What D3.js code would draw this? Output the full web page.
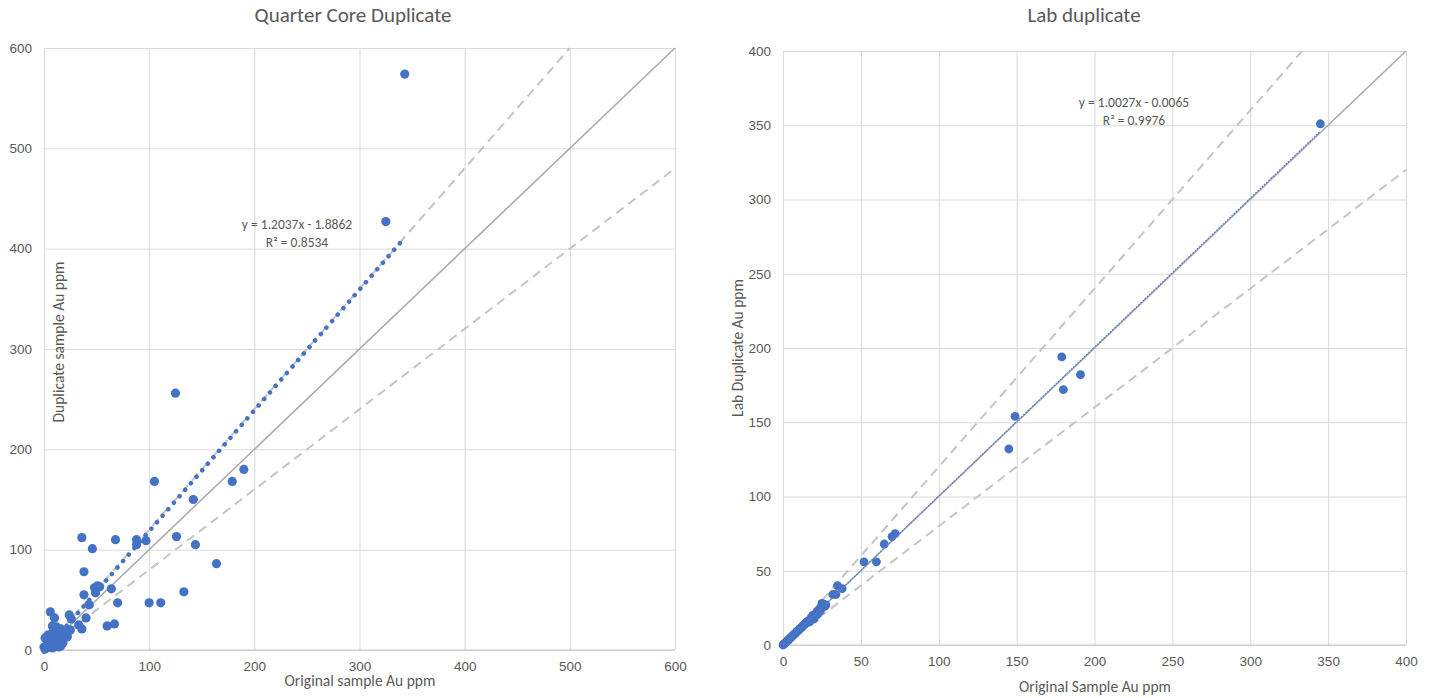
<!DOCTYPE html>
<html>
<head>
<meta charset="utf-8">
<script src="https://cdn.jsdelivr.net/npm/d3@7"></script>
<style>
  html, body { margin: 0; padding: 0; background: #fff; }
  svg { display: block; font-family: Carlito, Calibri, Lato, "Open Sans", sans-serif; }
</style>
</head>
<body>
<svg id="chart" width="1436" height="698"></svg>
<script>
// ---------- DATA ----------
// Quarter core duplicate: original vs duplicate (Au ppm)
const qcOriginal  = [343, 325, 125, 190, 179, 105, 142, 36, 68, 88, 97, 126, 88, 46, 144, 164, 38, 64, 48, 51, 53, 49, 38, 43, 70, 100, 111, 133,
                     6, 10, 24, 26, 40, 33, 36, 60, 67, 9, 8, 12, 16, 18, 22, 15, 9, 4, 1, 6, 0, 2, 10, 16, 18, 7, 12, 18, 22, 3, 5, 1, 13, 20, 11, 14, 4, 8, 25];
const qcDuplicate = [574, 427, 256, 180, 168, 168, 150, 112, 110, 110, 109, 113, 105, 101, 105, 86, 78, 61, 62, 64, 63, 57, 55, 45, 47, 47, 47, 58,
                     38, 32, 35, 31, 32, 25, 21, 24, 26, 23, 24, 23, 21, 18, 14, 17, 19, 15, 12, 10, 3, 2, 5, 4, 7, 7, 12, 12, 13, 6, 3, 1, 9, 16, 15, 3, 9, 2, 20];
const qcTicks = [0, 100, 200, 300, 400, 500, 600];
const qcTrend = { slope: 1.2037, intercept: -1.8862, r2: 0.8534 };

// Lab duplicate: original vs lab duplicate (Au ppm)
const labOriginal  = [345, 179, 180, 191, 149, 145, 72, 70, 65, 52, 60, 35, 38, 32, 34, 25, 26, 24, 21, 19,
                      0, 0.5, 1, 1.5, 2, 2.5, 3, 3.5, 4, 4.5, 5, 5.5, 6, 6.5, 7, 8, 8.5, 9, 10, 10.5, 11, 12, 12.5, 13, 14, 14.5, 15, 16, 17, 18, 18.5, 20, 22, 23, 24, 25, 26, 27, 27.5, 17, 20, 22];
const labDuplicate = [351, 194, 172, 182, 154, 132, 75, 73, 68, 56, 56, 40, 38, 34, 34, 28, 26, 25, 21, 20,
                      0, 0.4, 1.1, 1.5, 1.9, 2.6, 3, 3.3, 4.1, 4.6, 5, 5.4, 6.1, 6.4, 7.1, 7.8, 8.6, 9.2, 9.8, 10.6, 11.2, 11.8, 12.7, 13.3, 13.8, 14.9, 15.4, 16, 16.6, 18.3, 17.5, 19.2, 22.6, 23.5, 23, 26, 27.5, 26.2, 27, 15.5, 17.5, 20.5];
const labTicks = [0, 50, 100, 150, 200, 250, 300, 350, 400];
const labTrend = { slope: 1.0027, intercept: -0.0065, r2: 0.9976 };

// ---------- DRAW ----------
const svg = d3.select("#chart");
const TXT = "#595959", GRID = "#D9D9D9", BLUE = "#4472C4";

function drawChart(cfg) {
  const max = cfg.ticks[cfg.ticks.length - 1];
  const x = d3.scaleLinear().domain([0, max]).range(cfg.xRange);
  const y = d3.scaleLinear().domain([0, max]).range(cfg.yRange);
  const g = svg.append("g");

  // gridlines
  const xAxisG = g.append("g").attr("transform", `translate(0,${cfg.yRange[0]})`)
    .call(d3.axisBottom(x).tickValues(cfg.ticks).tickSize(-(cfg.yRange[0] - cfg.yRange[1])).tickPadding(11).tickFormat(d3.format("d")));
  const yAxisG = g.append("g").attr("transform", `translate(${cfg.xRange[0]},0)`)
    .call(d3.axisLeft(y).tickValues(cfg.ticks).tickSize(-(cfg.xRange[1] - cfg.xRange[0])).tickPadding(12).tickFormat(d3.format("d")));
  [xAxisG, yAxisG].forEach(a => {
    a.select(".domain").remove();
    a.selectAll(".tick line").attr("stroke", GRID).attr("stroke-width", 1);
    a.selectAll(".tick text").attr("fill", TXT).style("font-size", "13.5px");
  });
  // axis line
  g.append("line").attr("x1", cfg.xRange[0]).attr("x2", cfg.xRange[1])
    .attr("y1", cfg.yRange[0]).attr("y2", cfg.yRange[0]).attr("stroke", "#C8C8C8").attr("stroke-width", 1.2);

  // reference lines: 1:1 and +/-20%
  const refs = [
    { k: 1.0, dash: null },
    { k: 1.2, dash: "9 6" },
    { k: 0.8, dash: "9 6" }
  ];
  refs.forEach(r => {
    const xEnd = Math.min(max, max / r.k);
    g.append("line")
      .attr("x1", x(0)).attr("y1", y(0))
      .attr("x2", x(xEnd)).attr("y2", y(r.k * xEnd))
      .attr("stroke", r.dash ? "#C4C4C4" : "#ABABAB")
      .attr("stroke-width", r.dash ? 2 : 1.6)
      .attr("stroke-dasharray", r.dash);
  });

  // points
  g.append("g").selectAll("circle")
    .data(cfg.xs.map((v, i) => [v, cfg.ys[i]]))
    .join("circle")
    .attr("cx", d => x(d[0])).attr("cy", d => y(d[1]))
    .attr("r", cfg.r).attr("fill", BLUE);

  // trendline (dotted)
  const xMaxData = d3.max(cfg.xs);
  const t = cfg.trend;
  g.append("line")
    .attr("x1", x(0)).attr("y1", y(t.intercept))
    .attr("x2", x(xMaxData)).attr("y2", y(t.slope * xMaxData + t.intercept))
    .attr("stroke", cfg.trendColor).attr("stroke-width", cfg.trendW)
    .attr("stroke-linecap", "round")
    .attr("stroke-dasharray", cfg.trendDash);

  // equation labels
  const sign = t.intercept < 0 ? " - " : " + ";
  g.append("text").attr("x", cfg.eqPos[0]).attr("y", cfg.eqPos[1])
    .attr("text-anchor", "middle").attr("fill", TXT).style("font-size", "13.5px")
    .text(`y = ${t.slope.toFixed(4)}x${sign}${Math.abs(t.intercept).toFixed(4)}`);
  g.append("text").attr("x", cfg.eqPos[0]).attr("y", cfg.eqPos[1] + 18)
    .attr("text-anchor", "middle").attr("fill", TXT).style("font-size", "13.5px")
    .text(`R² = ${t.r2.toFixed(4)}`);

  // title
  g.append("text").attr("x", cfg.titlePos[0]).attr("y", cfg.titlePos[1])
    .attr("text-anchor", "middle").attr("fill", TXT).style("font-size", "21px")
    .text(cfg.title);
  // axis titles
  g.append("text").attr("x", cfg.xTitlePos[0]).attr("y", cfg.xTitlePos[1])
    .attr("text-anchor", "middle").attr("fill", TXT).style("font-size", "15.5px")
    .text(cfg.xTitle);
  g.append("text")
    .attr("transform", `translate(${cfg.yTitlePos[0]},${cfg.yTitlePos[1]}) rotate(-90)`)
    .attr("text-anchor", "middle").attr("fill", TXT).style("font-size", "15.5px")
    .text(cfg.yTitle);
}

drawChart({
  xs: qcOriginal, ys: qcDuplicate, ticks: qcTicks, trend: qcTrend,
  xRange: [44, 675], yRange: [650, 48], r: 4.6,
  trendW: 4.5, trendDash: "0.1 8.5", trendColor: BLUE,
  eqPos: [297, 229], titlePos: [353, 22],
  title: "Quarter Core Duplicate",
  xTitle: "Original sample Au ppm", xTitlePos: [360, 686],
  yTitle: "Duplicate sample Au ppm", yTitlePos: [64, 342]
});

drawChart({
  xs: labOriginal, ys: labDuplicate, ticks: labTicks, trend: labTrend,
  xRange: [783, 1406], yRange: [645, 51], r: 4.4,
  trendW: 1.3, trendDash: "0.8 2.2", trendColor: "#5B7FC7",
  eqPos: [1134, 107], titlePos: [1084, 22],
  title: "Lab duplicate",
  xTitle: "Original Sample Au ppm", xTitlePos: [1095, 692],
  yTitle: "Lab Duplicate Au ppm", yTitlePos: [743, 348]
});
</script>
</body>
</html>
